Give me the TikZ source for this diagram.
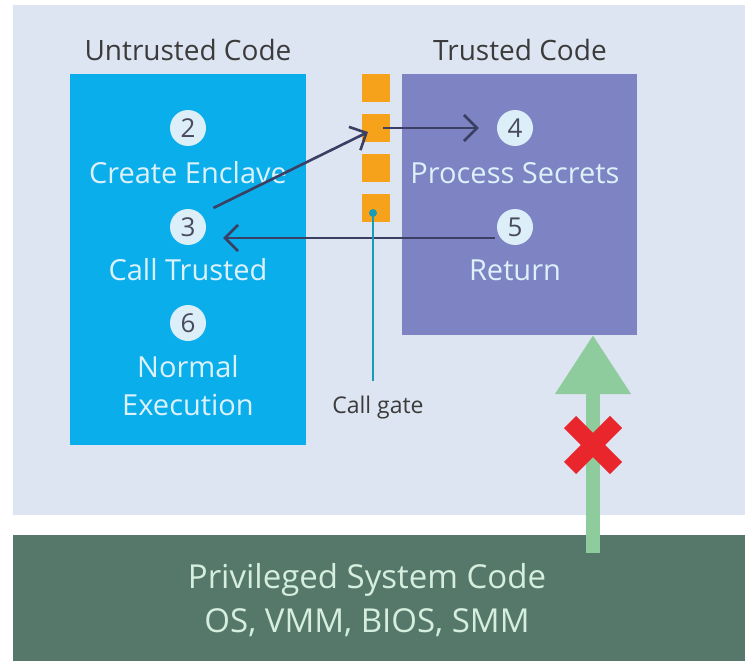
\documentclass[tikz,border=0pt]{standalone}
\usepackage{fontspec}
\setmainfont{Open Sans}
\usetikzlibrary{arrows.meta}
\definecolor{panelbg}{HTML}{DEE5F2}
\definecolor{ublue}{HTML}{0AAEEA}
\definecolor{tpurple}{HTML}{7E83C3}
\definecolor{gateorange}{HTML}{F7A21B}
\definecolor{osgreen}{HTML}{55786A}
\definecolor{uparrow}{HTML}{8ECC9E}
\definecolor{blockred}{HTML}{E8262C}
\definecolor{dotfill}{HTML}{DCEEF8}
\definecolor{dotnum}{HTML}{4A4A5E}
\definecolor{boxtext}{HTML}{DDF1FA}
\definecolor{titlegray}{HTML}{3B3B3B}
\definecolor{ostext}{HTML}{D5EEDD}
\definecolor{flowline}{HTML}{3A3F63}
\definecolor{gateteal}{HTML}{1A9BB5}
\begin{document}
\begin{tikzpicture}[x=1pt,y=-1pt,
  title/.style={text=titlegray,font=\fontsize{28}{32}\selectfont},
  region/.style={anchor=north west,inner sep=0pt,outer sep=0pt},
  numdot/.style={circle,fill=dotfill,text=dotnum,minimum size=36pt,inner sep=0pt,
    font=\fontsize{26}{30}\selectfont},
  steptext/.style={text=boxtext,align=center,font=\fontsize{29}{38}\selectfont},
  gatebox/.style={fill=gateorange,minimum width=28pt,minimum height=28pt,inner sep=0pt},
  flow/.style={draw=flowline,line width=2.6pt,-{Straight Barb[length=13pt,width=26pt,line width=2.6pt]}},
]
\useasboundingbox (0,0) rectangle (750,661);
\fill[white] (0,0) rectangle (750,661);
% application panel and system panel
\fill[panelbg] (13,5) rectangle (745,515);
\node[region,fill=osgreen,minimum width=732pt,minimum height=126pt] (os) at (13,535) {};

% column titles
\node[title] (ulabel) at (188,50) {Untrusted Code};
\node[title] (tlabel) at (520,50) {Trusted Code};

% untrusted and trusted regions
\node[region,fill=ublue,minimum width=236pt,minimum height=371pt] (ubox) at (70,74) {};
\node[region,fill=tpurple,minimum width=235pt,minimum height=261pt] (tbox) at (402,74) {};

% call gate squares
\node[gatebox] (g1) at (376,88) {};
\node[gatebox] (g2) at (376,128) {};
\node[gatebox] (g3) at (376,168) {};
\node[gatebox] (g4) at (376,208) {};

% untrusted steps
\node[numdot] (n2) at (188,128) {2};
\node[steptext] (t2) at (188,173) {Create Enclave};
\node[numdot] (n3) at (188,227) {3};
\node[steptext] (t3) at (188,270) {Call Trusted};
\node[numdot] (n6) at (188,323) {6};
\node[steptext] (t6) at (188,386) {Normal\\Execution};

% trusted steps
\node[numdot] (n4) at (515,128) {4};
\node[steptext] (t4) at (515,173) {Process Secrets};
\node[numdot] (n5) at (515,227) {5};
\node[steptext] (t5) at (515,270) {Return};

% call flow
\draw[flow,shorten <=14pt] (n3.45) -- ([xshift=-8pt,yshift=-4pt]g2.center);
\draw[flow,shorten >=18pt] ([xshift=7pt]g2.center) -- (n4.west);
\draw[flow,shorten >=17pt,shorten <=2pt] ([yshift=-11pt]n5.west) -- ([yshift=-11pt]n3.east);

% call gate pointer
\node[circle,fill=gateteal,minimum size=8pt,inner sep=0pt] (gdot) at (373,213) {};
\node[text=titlegray,font=\fontsize{23}{28}\selectfont] (glabel) at (378,408) {Call gate};
\draw[gateteal,line width=2.4pt] (gdot.center) -- ([yshift=12pt]glabel.north -| gdot);

% blocked access from privileged code
\coordinate (gstart) at (593,553);
\draw[uparrow,line width=14pt,-{Triangle[length=59pt,width=72pt]}] (gstart) -- (tbox.south -| gstart);
\node[inner sep=0pt,minimum size=0pt] (xmark) at (593,445) {};
\draw[blockred,line width=17pt] ([xshift=-23pt,yshift=23pt]xmark.center) -- ([xshift=23pt,yshift=-23pt]xmark.center);
\draw[blockred,line width=17pt] ([xshift=-23pt,yshift=-23pt]xmark.center) -- ([xshift=23pt,yshift=23pt]xmark.center);

% privileged system label
\node[text=ostext,align=center,font=\fontsize{33}{44}\selectfont] (ostxt) at (367,600) {Privileged System Code\\OS, VMM, BIOS, SMM};
\end{tikzpicture}
\end{document}
